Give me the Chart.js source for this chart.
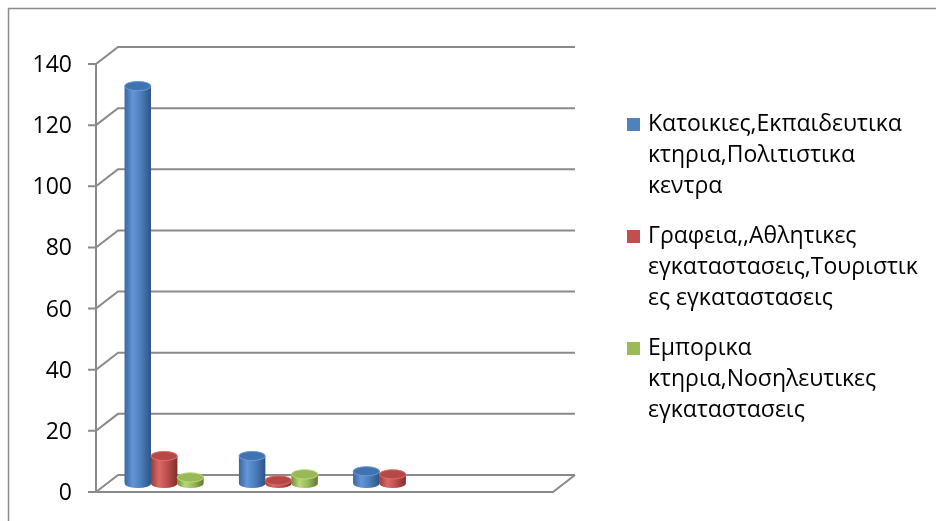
<!DOCTYPE html>
<html>
<head>
<meta charset="utf-8">
<script src="https://cdn.jsdelivr.net/npm/chart.js@4"></script>
<style>
  html, body { margin: 0; padding: 0; background: #ffffff; }
  #wrap { width: 936px; height: 521px; position: relative; }
</style>
</head>
<body>
<div id="wrap"><canvas id="chart" width="936" height="521"></canvas></div>
<script>
// Building categories (unnamed groups along the floor)
const categories = ['', '', '', ''];

// Series names and their legend line breaks
const seriesNames = [
  'Κατοικιες,Εκπαιδευτικα κτηρια,Πολιτιστικα κεντρα',
  'Γραφεια,,Αθλητικες εγκαταστασεις,Τουριστικες εγκαταστασεις',
  'Εμπορικα κτηρια,Νοσηλευτικες εγκαταστασεις'
];
const legendLines = [
  ['Κατοικιες,Εκπαιδευτικα', 'κτηρια,Πολιτιστικα', 'κεντρα'],
  ['Γραφεια,,Αθλητικες', 'εγκαταστασεις,Τουριστικ', 'ες εγκαταστασεις'],
  ['Εμπορικα', 'κτηρια,Νοσηλευτικες', 'εγκαταστασεις']
];

// Series values
const residential = [130, 9, 4, null];
const offices     = [9, 1, 3, null];
const commercial  = [2, 3, null, null];

// Value axis
const yMin = 0, yMax = 140, yStep = 20;

const FONT = '"Open Sans", "Liberation Sans", sans-serif';
const FONT_SIZE = 23;
const BASE = ['#4F81BD', '#C0504D', '#9BBB59'];
const SHADES = [
  { edge: '#3a67a0', light: '#6396d6', mid: '#4d7fbd', dark: '#2f5483', top: '#4173b0', rim: '#6a9bd6' },
  { edge: '#9a3c39', light: '#d96a66', mid: '#c0504d', dark: '#7e302e', top: '#b84845', rim: '#da6f6b' },
  { edge: '#748f3d', light: '#b8d878', mid: '#9bbb59', dark: '#627a33', top: '#98b957', rim: '#bad97b' }
];

// Depth of the 3-D box: the bars sit in the middle plane (the chart area)
const DX = 11, DY = 8.5;

const boxPlugin = {
  id: 'box3d',
  beforeDraw(chart) {
    const c = chart.ctx;
    c.save();
    c.strokeStyle = '#8c8c8c';
    c.lineWidth = 1.5;
    c.strokeRect(8.5, 8.5, 1000, 1000);
    c.restore();
  },
  beforeDatasetsDraw(chart) {
    const c = chart.ctx, y = chart.scales.y, a = chart.chartArea;
    const fx = a.left - DX, bx = a.left + DX;
    const fr = a.right - DX, br = a.right + DX;
    c.save();
    c.strokeStyle = '#8a8a8a';
    c.lineWidth = 2;
    c.lineCap = 'butt';
    y.ticks.forEach(t => {
      const m = y.getPixelForValue(t.value);
      const fy = m + DY, by = m - DY;
      c.beginPath();
      c.moveTo(fx - 8, fy); c.lineTo(fx, fy);
      c.lineTo(bx, by); c.lineTo(br, by);
      c.stroke();
    });
    const f0 = y.getPixelForValue(yMin) + DY, fTop = y.getPixelForValue(yMax) + DY;
    const b0 = y.getPixelForValue(yMin) - DY;
    c.beginPath();
    c.moveTo(fx, fTop); c.lineTo(fx, f0);
    c.lineTo(fr, f0); c.lineTo(br, b0);
    c.stroke();
    c.restore();
  },
  afterDatasetsDraw(chart) {
    const c = chart.ctx;
    chart.data.datasets.forEach((ds, di) => {
      const meta = chart.getDatasetMeta(di);
      const s = SHADES[di];
      meta.data.forEach((el, i) => {
        if (ds.data[i] == null) return;
        const x = el.x, top = el.y, base = el.base, w = el.width;
        const rx = w / 2, ry = 4.6;
        const l = x - rx, r = x + rx;
        const g = c.createLinearGradient(l, 0, r, 0);
        g.addColorStop(0, s.edge);
        g.addColorStop(0.3, s.light);
        g.addColorStop(0.6, s.mid);
        g.addColorStop(1, s.dark);
        c.save();
        c.beginPath();
        c.moveTo(l, top);
        c.lineTo(l, base);
        c.ellipse(x, base, rx, ry, 0, Math.PI, 0, true);
        c.lineTo(r, top);
        c.closePath();
        c.fillStyle = g;
        c.fill();
        c.beginPath();
        c.ellipse(x, top, rx, ry, 0, 0, Math.PI * 2);
        c.fillStyle = s.top;
        c.fill();
        c.strokeStyle = s.rim;
        c.lineWidth = 1;
        c.stroke();
        c.restore();
      });
    });
  },
  afterDraw(chart) {
    const c = chart.ctx;
    c.save();
    c.font = FONT_SIZE + 'px ' + FONT;
    c.textBaseline = 'middle';
    let yy = 124;
    legendLines.forEach((lines, i) => {
      c.fillStyle = BASE[i];
      c.fillRect(627, yy - 6, 13, 13);
      c.fillStyle = '#000000';
      lines.forEach((txt, k) => c.fillText(txt, 648, yy + k * 31));
      yy += 112;
    });
    c.restore();
  }
};

new Chart(document.getElementById('chart'), {
  type: 'bar',
  data: {
    labels: categories,
    datasets: [
      { label: seriesNames[0], data: residential, backgroundColor: BASE[0] },
      { label: seriesNames[1], data: offices, backgroundColor: BASE[1] },
      { label: seriesNames[2], data: commercial, backgroundColor: BASE[2] }
    ]
  },
  options: {
    responsive: false,
    animation: false,
    events: [],
    layout: { padding: { left: 0, top: 55.5, right: 372, bottom: 37.5 } },
    datasets: { bar: { categoryPercentage: 0.69, barPercentage: 1, borderWidth: 0 } },
    plugins: { legend: { display: false }, tooltip: { enabled: false } },
    scales: {
      x: { display: false },
      y: {
        min: yMin, max: yMax,
        afterFit(scale) {
          scale.width = 107;
          scale.paddingTop = 0;
          scale.paddingBottom = 0;
        },
        border: { display: false },
        grid: { display: false, drawTicks: false },
        ticks: {
          stepSize: yStep,
          padding: 35,
          labelOffset: 10,
          color: '#000000',
          font: { family: FONT, size: FONT_SIZE }
        }
      }
    }
  },
  plugins: [boxPlugin]
});
</script>
</body>
</html>
